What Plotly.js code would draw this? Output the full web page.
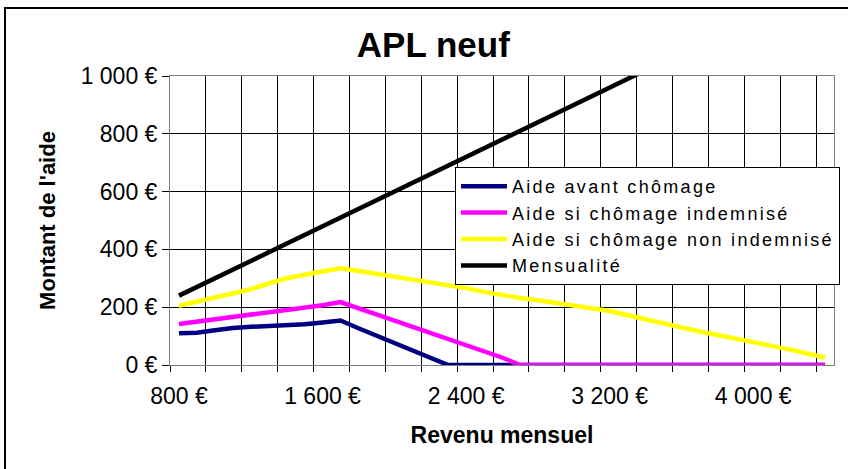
<!DOCTYPE html>
<html>
<head>
<meta charset="utf-8">
<script src="https://cdn.plot.ly/plotly-3.0.1.min.js"></script>
<style>
  html, body { margin: 0; padding: 0; background: #fff; }
  #chart { width: 848px; height: 469px; }
  .legendtext { letter-spacing: 2.3px; }
</style>
</head>
<body>
<div id="chart"></div>
<script>
// Monthly income (categories of the Excel chart)
const revenus = [800, 900, 1000, 1100, 1200, 1300, 1400, 1500, 1600, 1700,
                 1800, 1900, 2000, 2100, 2200, 2300, 2400, 2500, 2600, 2700,
                 2800, 2900, 3000, 3100, 3200, 3300, 3400, 3500, 3600, 3700,
                 3800, 3900, 4000, 4100, 4200, 4300, 4400];

const aideAvantChomage = [110, 112, 120, 128, 132, 135, 137, 141, 147, 154,
                          127, 102, 77, 53, 27, 0, 0, 0, 0, 0,
                          0, 0, 0, 0, 0, 0, 0, 0, 0, 0,
                          0, 0, 0, 0, 0, 0, 0];

const aideChomageIndemnise = [142, 150, 157, 166, 175, 184, 192, 200, 207, 218,
                              197, 176, 154, 133, 112, 91, 69, 48, 26, 0,
                              0, 0, 0, 0, 0, 0, 0, 0, 0, 0,
                              0, 0, 0, 0, 0, 0, 0];

const aideChomageNonIndemnise = [205, 220, 234, 248, 262, 282, 300, 312, 322, 335,
                                 325, 315, 306, 297, 288, 278, 266, 253, 241, 232,
                                 224, 214, 204, 196, 187, 172, 158, 143, 128, 116,
                                 104, 92, 80, 67, 54, 40, 26];

const mensualite = [240, 270, 300, 330, 360, 390, 420, 450, 480, 510,
                    540, 570, 600, 630, 660, 690, 720, 750, 780, 810,
                    840, 870, 900, 930, 960, 990, 1020, 1050, 1080, 1110,
                    1140, 1170, 1200, 1230, 1260, 1290, 1320];

const seriesNames = ["Aide avant chômage", "Aide si chômage indemnisé",
                     "Aide si chômage non indemnisé", "Mensualité"];
const seriesColors = ["#000080", "#FF00FF", "#FFFF00", "#000000"];

const xTickVals = [800, 1600, 2400, 3200, 4000];
const xTickText = ["800 €", "1 600 €", "2 400 €", "3 200 €", "4 000 €"];
const yTickVals = [0, 200, 400, 600, 800, 1000];
const yTickText = ["0 €", "200 €", "400 €", "600 €", "800 €", "1 000 €"];

const ySeries = [aideAvantChomage, aideChomageIndemnise, aideChomageNonIndemnise, mensualite];

const FONT = "Liberation Sans, Arial, sans-serif";

const traces = ySeries.map((ys, i) => ({
  type: "scatter",
  mode: "lines",
  x: revenus,
  y: ys,
  name: seriesNames[i],
  line: { color: seriesColors[i], width: 4.5 },
  hoverinfo: "x+y+name"
}));

// plot area in px: left 170, right 834, top 76, bottom 365
const PL = 170, PR = 834, PT = 76, PB = 365;
const pw = PR - PL, ph = PB - PT;
const px2x = p => (p - PL) / pw;
const px2y = p => (PB - p) / ph;

const layout = {
  width: 848,
  height: 469,
  margin: { l: PL, r: 848 - PR, t: PT, b: 469 - PB, pad: 0, autoexpand: false },
  paper_bgcolor: "#ffffff",
  plot_bgcolor: "#ffffff",
  font: { family: FONT, color: "#000000", size: 23 },
  showlegend: true,
  title: {
    text: "APL neuf",
    font: { family: FONT, size: 35, weight: 700, color: "#000000" },
    xref: "container", yref: "container",
    x: 0.511, y: 1 - 45 / 469,
    xanchor: "center", yanchor: "middle"
  },
  xaxis: {
    type: "linear",
    range: [750, 4450],
    tickmode: "array",
    tickvals: xTickVals,
    ticktext: xTickText,
    ticks: "",
    showgrid: false,
    zeroline: false,
    showline: true,
    linecolor: "#808080",
    linewidth: 1,
    mirror: true,
    ticklabelstandoff: 10,
    tickfont: { family: FONT, size: 23, color: "#000000" },
    minor: {
      tickmode: "linear",
      tick0: 750,
      dtick: 200,
      ticks: "outside",
      ticklen: 6,
      tickcolor: "#000000",
      tickwidth: 1,
      showgrid: true,
      gridcolor: "#000000",
      gridwidth: 1
    },
    title: {
      text: "Revenu mensuel",
      font: { family: FONT, size: 23, weight: 700, color: "#000000" },
      standoff: 19
    }
  },
  yaxis: {
    range: [0, 1000],
    tickmode: "array",
    tickvals: yTickVals,
    ticktext: yTickText,
    ticks: "outside",
    ticklen: 7,
    tickcolor: "#000000",
    showgrid: true,
    gridcolor: "#000000",
    gridwidth: 1,
    zeroline: false,
    showline: true,
    linecolor: "#808080",
    linewidth: 1,
    mirror: true,
    tickfont: { family: FONT, size: 23, color: "#000000" },
    title: {
      text: "Montant de l'aide",
      font: { family: FONT, size: 22, weight: 700, color: "#000000" },
      standoff: 18
    }
  },
  legend: {
    x: px2x(455),
    y: px2y(167),
    xanchor: "left",
    yanchor: "top",
    bgcolor: "#ffffff",
    bordercolor: "#000000",
    borderwidth: 1,
    font: { family: FONT, size: 18, color: "#000000" },
    itemwidth: 46
  },
  shapes: [
    {
      type: "rect", xref: "paper", yref: "paper",
      x0: px2x(5), x1: px2x(900), y0: px2y(520), y1: px2y(8),
      line: { color: "#000000", width: 2 },
      fillcolor: "rgba(0,0,0,0)",
      layer: "above"
    }
  ]
};

Plotly.newPlot("chart", traces, layout, { staticPlot: true, displayModeBar: false });
</script>
</body>
</html>
